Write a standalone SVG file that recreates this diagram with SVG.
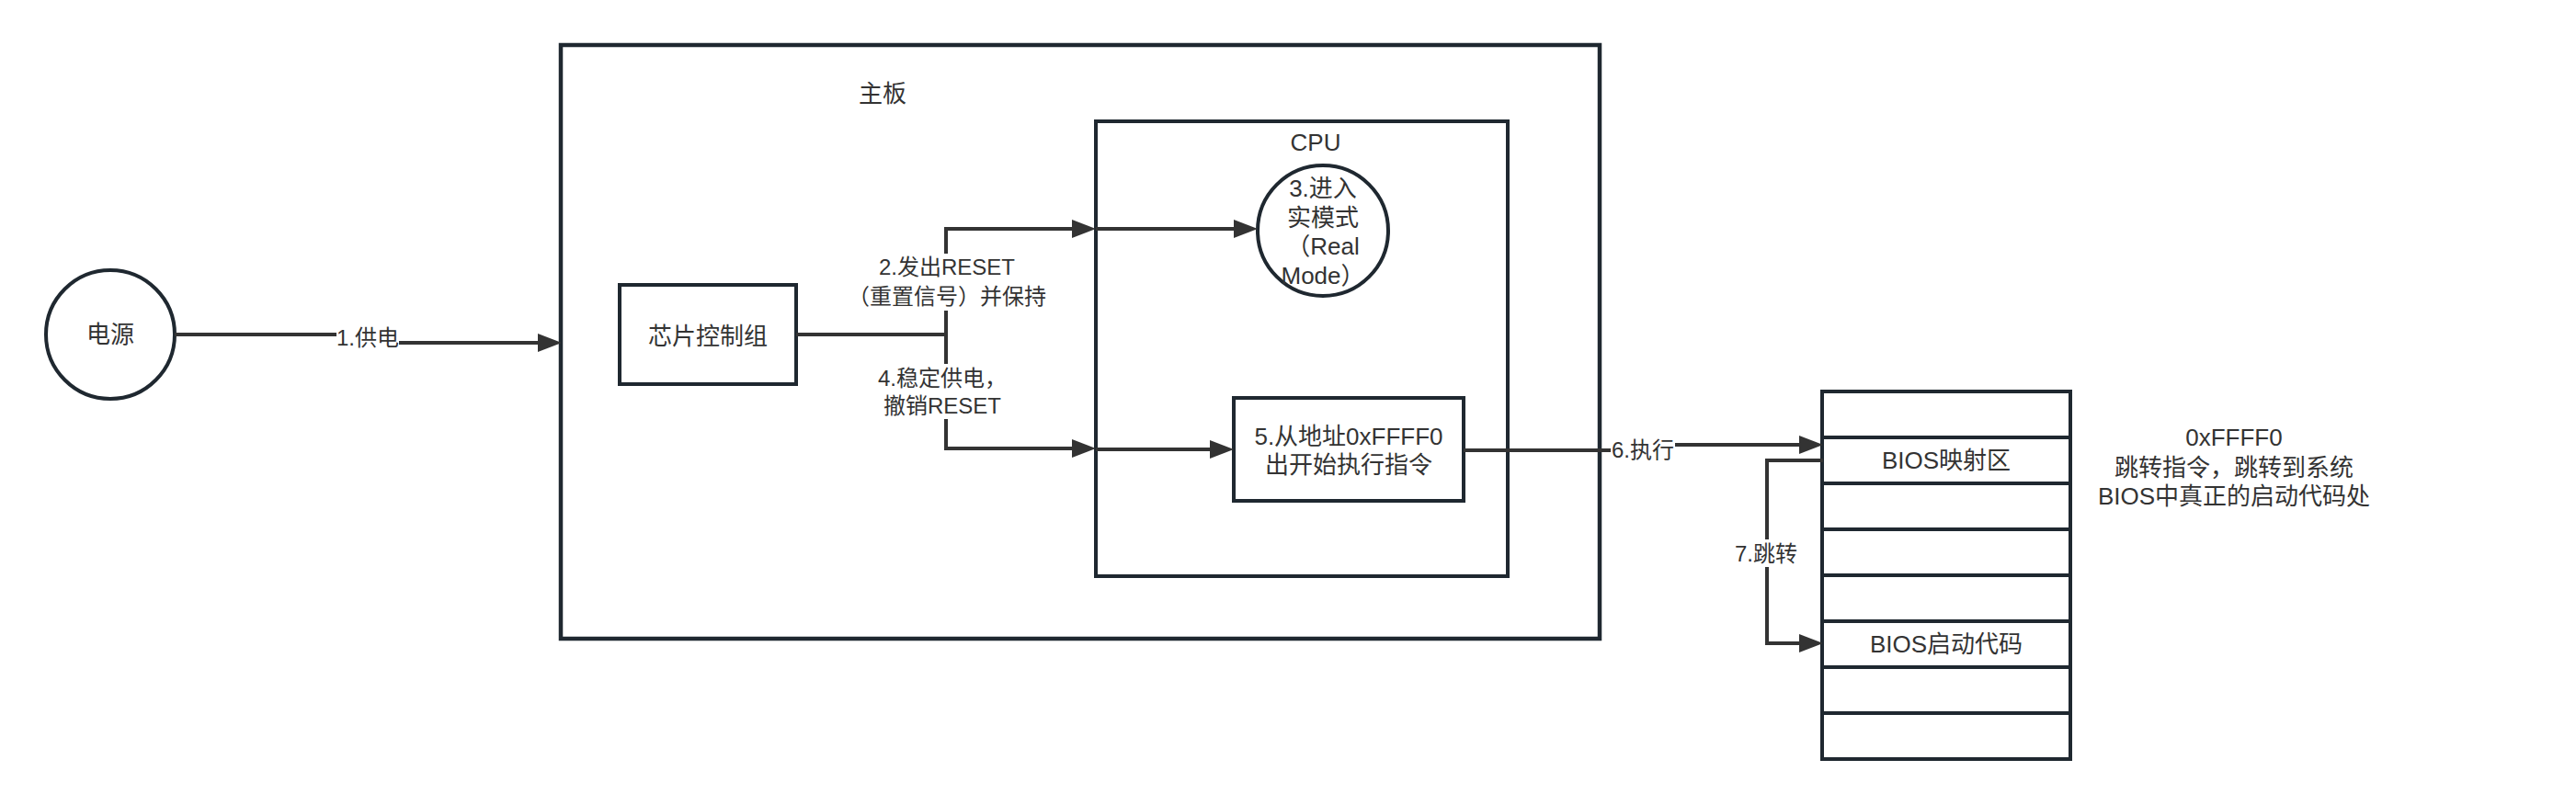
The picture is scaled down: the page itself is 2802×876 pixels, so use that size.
<svg xmlns="http://www.w3.org/2000/svg" width="2802" height="876" viewBox="0 0 2802 876">
<style>
.box{fill:#ffffff;stroke:#1f2830;stroke-width:4}
.board{fill:#ffffff;stroke:#1f2830;stroke-width:4.5}
.edge{fill:none;stroke:#333333;stroke-width:4}
.t{font-family:"Liberation Sans","Noto Sans CJK SC",sans-serif;font-size:26px;fill:#333333;text-anchor:middle;dominant-baseline:central}
.l{font-family:"Liberation Sans","Noto Sans CJK SC",sans-serif;font-size:24px;fill:#333333;text-anchor:middle;dominant-baseline:central}
.bg{fill:#ffffff;stroke:none}
</style>
<defs>
<marker id="arr" markerUnits="userSpaceOnUse" viewBox="0 0 26 20" markerWidth="26" markerHeight="20" refX="0" refY="10" orient="auto">
<path d="M0,0 L26,10 L0,20 z" fill="#333333"/>
</marker>
</defs>
<rect width="2802" height="876" fill="#ffffff"/>

<g id="power">
<ellipse class="box" cx="120" cy="364" rx="70" ry="70"/>
<text class="t" x="120" y="364">电源</text>
</g>

<g id="mainboard">
<rect class="board" x="610" y="49" width="1130" height="646"/>
<text class="t" x="960" y="102">主板</text>
</g>

<g id="chipset">
<rect class="box" x="674" y="310" width="192" height="108"/>
<text class="t" x="770" y="366">芯片控制组</text>
</g>

<g id="cpu">
<rect class="box" x="1192" y="132" width="448" height="495"/>
<text class="t" x="1431" y="155">CPU</text>
</g>

<g id="realmode">
<ellipse class="box" cx="1439" cy="251" rx="71" ry="71"/>
<text class="t" x="1439" y="205">3.进入</text>
<text class="t" x="1439" y="237">实模式</text>
<text class="t" x="1439" y="268">（Real</text>
<text class="t" x="1439" y="300">Mode）</text>
</g>

<g id="exec">
<rect class="box" x="1342" y="433" width="250" height="112"/>
<text class="t" x="1467" y="475">5.从地址0xFFFF0</text>
<text class="t" x="1467" y="506">出开始执行指令</text>
</g>

<g id="bios">
<rect class="box" x="1982" y="426" width="270" height="50"/>
<rect class="box" x="1982" y="476" width="270" height="50"/>
<rect class="box" x="1982" y="526" width="270" height="50"/>
<rect class="box" x="1982" y="576" width="270" height="50"/>
<rect class="box" x="1982" y="626" width="270" height="50"/>
<rect class="box" x="1982" y="676" width="270" height="50"/>
<rect class="box" x="1982" y="726" width="270" height="50"/>
<rect class="box" x="1982" y="776" width="270" height="50"/>
<text class="t" x="2117" y="501">BIOS映射区</text>
<text class="t" x="2117" y="701">BIOS启动代码</text>
</g>

<g id="note">
<text class="t" x="2430" y="476">0xFFFF0</text>
<text class="t" x="2430" y="509">跳转指令，跳转到系统</text>
<text class="t" x="2430" y="540">BIOS中真正的启动代码处</text>
</g>

<g id="connectors">
<path class="edge" d="M190,364 H400 V373 H585" marker-end="url(#arr)"/>
<path class="edge" d="M866,364 H1029 V249 H1166" marker-end="url(#arr)"/>
<path class="edge" d="M1029,364 V488 H1166" marker-end="url(#arr)"/>
<path class="edge" d="M1192,249 H1342" marker-end="url(#arr)"/>
<path class="edge" d="M1192,489 H1316" marker-end="url(#arr)"/>
<path class="edge" d="M1592,490 H1787 V484 H1957" marker-end="url(#arr)"/>
<path class="edge" d="M1983,501 H1922 V700 H1957" marker-end="url(#arr)"/>

<rect class="bg" x="366" y="352" width="68" height="30"/>
<text class="l" x="400" y="367">1.供电</text>

<rect class="bg" x="918" y="276" width="224" height="62"/>
<text class="l" x="1030" y="290">2.发出RESET</text>
<text class="l" x="1030" y="322">（重置信号）并保持</text>

<rect class="bg" x="950" y="396" width="150" height="60"/>
<text class="l" x="1025" y="411">4.稳定供电，</text>
<text class="l" x="1025" y="441">撤销RESET</text>

<rect class="bg" x="1752" y="474" width="70" height="30"/>
<text class="l" x="1787" y="489">6.执行</text>

<rect class="bg" x="1886" y="587" width="70" height="30"/>
<text class="l" x="1921" y="602">7.跳转</text>
</g>
</svg>
